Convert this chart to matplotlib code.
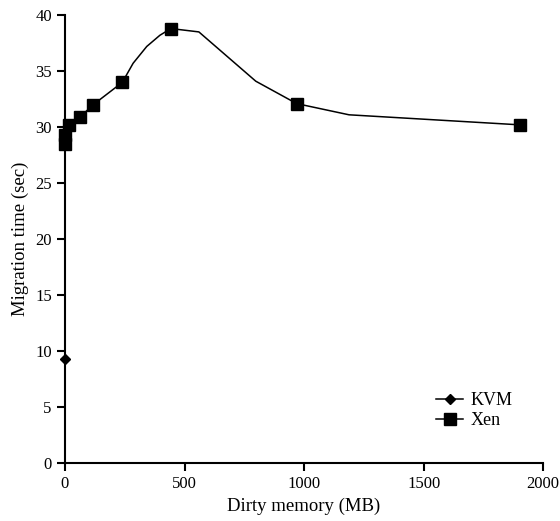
import matplotlib
matplotlib.use("Agg")
import matplotlib.pyplot as plt

plt.rcParams['font.family'] = ['Liberation Serif', 'DejaVu Serif']

# Xen curve (marked points + bends of the line)
xen_x = [0, 0, 17, 63, 118, 240, 285, 342, 397, 443, 560, 798, 969, 1188, 1905]
xen_y = [28.5, 29.3, 30.2, 30.9, 32.0, 34.0, 35.7, 37.2, 38.2, 38.8, 38.5, 34.1, 32.1, 31.1, 30.2]
xen_marked = [0, 1, 2, 3, 4, 5, 9, 12, 14]

kvm_x = [0]
kvm_y = [9.3]

x_ticks = [0, 500, 1000, 1500, 2000]
y_ticks = [0, 5, 10, 15, 20, 25, 30, 35, 40]

fig = plt.figure(figsize=(5.6, 5.21), dpi=100)
ax = fig.add_axes([0.116, 0.111, 0.854, 0.860])

ax.plot(kvm_x, kvm_y, color='black', lw=1.1, marker='D', markersize=5,
        label='KVM', clip_on=False, zorder=5)
ax.plot(xen_x, xen_y, color='black', lw=1.1, marker='s', markersize=8,
        markevery=xen_marked, label='Xen', clip_on=False, zorder=5)

ax.set_xlim(0, 2000)
ax.set_ylim(0, 40)
ax.set_xticks(x_ticks)
ax.set_yticks(y_ticks)
ax.spines['top'].set_visible(False)
ax.spines['right'].set_visible(False)
for s in ('left', 'bottom'):
    ax.spines[s].set_linewidth(1.5)
ax.tick_params(direction='out', length=6, width=1.5, labelsize=12)

ax.set_xlabel('Dirty memory (MB)', fontsize=13.5)
ax.set_ylabel('Migration time (sec)', fontsize=13.5)

ax.legend(loc='lower right', bbox_to_anchor=(0.97, 0.04), frameon=False,
          fontsize=13, handlelength=1.5, handletextpad=0.4, labelspacing=0.15)

fig.savefig('out.png', dpi=100)
